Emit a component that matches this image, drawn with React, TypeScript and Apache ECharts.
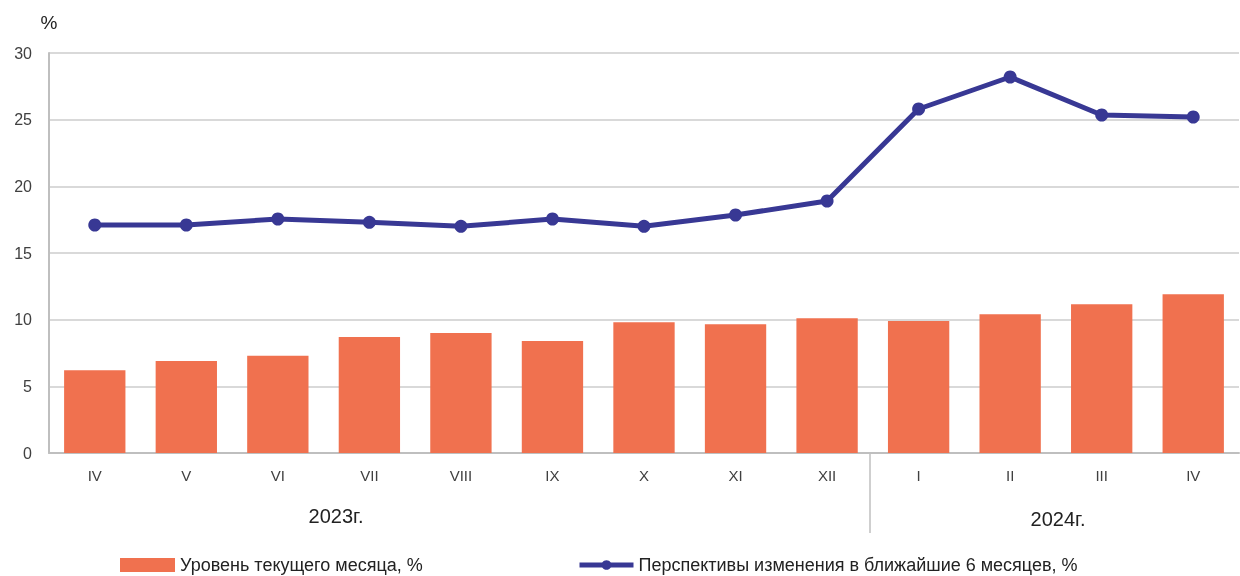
import React, { useEffect, useRef } from "react";
import * as echarts from "echarts";

const categories = ["IV", "V", "VI", "VII", "VIII", "IX", "X", "XI", "XII", "I", "II", "III", "IV"];
const currentLevel = [6.2, 6.9, 7.3, 8.7, 9.0, 8.4, 9.8, 9.65, 10.1, 9.9, 10.4, 11.15, 11.9];
const outlook = [17.1, 17.1, 17.55, 17.3, 17.0, 17.55, 17.0, 17.85, 18.9, 25.8, 28.2, 25.35, 25.2];
const yearLabels = ["2023г.", "2024г."];
const seriesNames = ["Уровень текущего месяца, %", "Перспективы изменения в ближайшие 6 месяцев, %"];

export default function App() {
  const ref = useRef<HTMLDivElement>(null);
  useEffect(() => {
    if (!ref.current) return;
    const chart = echarts.init(ref.current, null, { renderer: "svg" });
    const font = "'Liberation Sans', Arial, sans-serif";
    const legendText = { fontSize: 18, color: "#222", fontFamily: font, lineHeight: 18 };
    chart.setOption({
      animation: false,
      textStyle: { fontFamily: font },
      grid: { left: 49, right: 1, top: 53, bottom: 123, containLabel: false },
      legend: [
        {
          left: 118,
          top: 554,
          padding: 2,
          itemWidth: 55,
          itemHeight: 14,
          textStyle: legendText,
          data: [{ name: seriesNames[0], icon: "rect" }],
        },
        {
          left: 575,
          top: 554,
          padding: 2,
          itemWidth: 54,
          itemHeight: 12,
          textStyle: legendText,
          lineStyle: { width: 5 },
          data: [{ name: seriesNames[1] }],
        },
      ],
      xAxis: {
        type: "category",
        data: categories,
        axisLine: { lineStyle: { color: "#bfbfbf", width: 2 } },
        axisTick: { show: false },
        axisLabel: { color: "#404040", fontSize: 15, margin: 15, fontFamily: font },
      },
      yAxis: {
        type: "value",
        min: 0,
        max: 30,
        interval: 5,
        name: "%",
        nameGap: 21,
        nameTextStyle: { color: "#222", fontSize: 19, align: "center", fontFamily: font },
        axisLine: { show: true, lineStyle: { color: "#bfbfbf", width: 2 } },
        axisTick: { show: false },
        splitLine: { lineStyle: { color: "#d9d9d9", width: 2 } },
        axisLabel: { color: "#404040", fontSize: 16, margin: 17, fontFamily: font },
      },
      series: [
        {
          name: seriesNames[0],
          type: "bar",
          data: currentLevel,
          barWidth: "67%",
          itemStyle: { color: "#F0714F" },
        },
        {
          name: seriesNames[1],
          type: "line",
          data: outlook,
          symbol: "circle",
          symbolSize: 13,
          lineStyle: { color: "#383894", width: 5 },
          itemStyle: { color: "#383894" },
        },
      ],
      graphic: [
        { type: "line", shape: { x1: 870, y1: 454, x2: 870, y2: 533 }, style: { stroke: "#bfbfbf", lineWidth: 1.5 } },
        { type: "text", x: 336, y: 516, style: { text: yearLabels[0], fill: "#222", align: "center", verticalAlign: "middle", font: "20px " + font } },
        { type: "text", x: 1058, y: 519, style: { text: yearLabels[1], fill: "#222", align: "center", verticalAlign: "middle", font: "20px " + font } },
      ],
    });
    return () => chart.dispose();
  }, []);
  return <div ref={ref} style={{ position: "fixed", left: 0, top: 0, width: 1240, height: 576 }} />;
}
